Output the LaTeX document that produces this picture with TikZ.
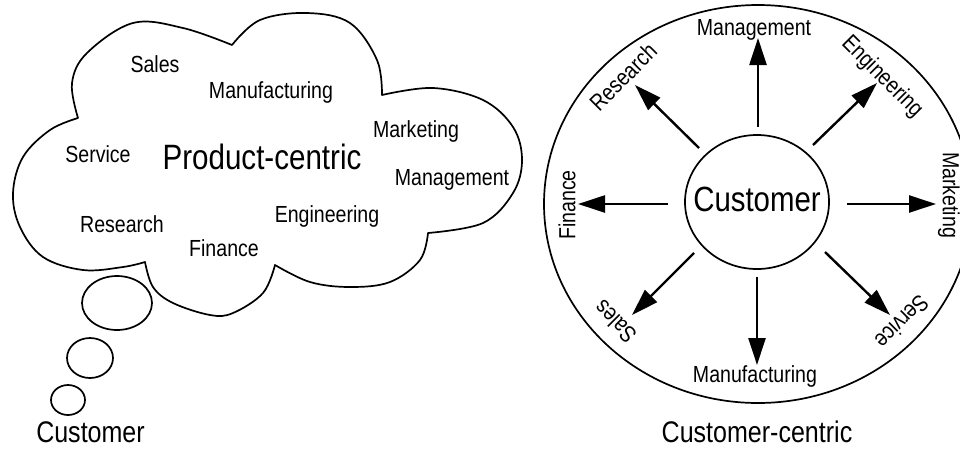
\documentclass[tikz,border=0pt]{standalone}
\usepackage{fontspec}
\setmainfont{Liberation Sans}[FakeStretch=0.84]
\usetikzlibrary{arrows.meta}
\begin{document}
\begin{tikzpicture}[x=1pt,y=-1pt,
  lbl/.style={inner sep=0pt, font=\fontsize{23.3}{27}\selectfont},
  title/.style={inner sep=0pt, font=\fontsize{29.8}{34}\selectfont},
  ray/.style={line width=2.4pt, -{Triangle[length=27pt,width=17pt]}},
  outline/.style={line width=1.7pt, line join=round}]
\useasboundingbox[fill=white] (0,0) rectangle (960,448);

% ---------- left: cloud ----------
\draw[outline]
  plot[smooth, tension=0.6] coordinates {(78,118) (72,83) (87,53) (133,23) (183,28) (232,45)}
  -- plot[smooth, tension=0.6] coordinates {(232,45) (260,20) (307,13) (350,23) (377,60) (382,95)}
  -- plot[smooth, tension=0.6] coordinates {(382,95) (433,88) (483,100) (513,127) (522,160) (513,193) (483,223) (428,233)}
  -- plot[smooth, tension=0.6] coordinates {(428,233) (420,260) (390,282) (350,287) (310,282) (275,265)}
  -- plot[smooth, tension=0.6] coordinates {(275,265) (263,293) (233,313) (210,315) (173,303) (153,287) (145,262)}
  -- plot[smooth, tension=0.6] coordinates {(145,262) (123,267) (83,270) (43,257) (20,227) (13,193) (23,157) (50,130) (78,118)}
  -- cycle;

\draw[outline] (117,303) ellipse [x radius=35pt, y radius=27pt];
\draw[outline] (90,358) ellipse [x radius=23pt, y radius=20pt];
\draw[outline] (68,400) ellipse [x radius=17pt, y radius=15pt];

\node[lbl, anchor=base] (lsales) at (155,72) {Sales};
\node[lbl, anchor=base] (lmanu) at (271,98) {Manufacturing};
\node[lbl, anchor=base] (lmark) at (416,137) {Marketing};
\node[lbl, anchor=base] (lserv) at (98,162) {Service};
\node[inner sep=0pt, font=\fontsize{35.2}{40}\selectfont, anchor=base] (prod) at (262,169) {Product-centric};
\node[lbl, anchor=base] (lmgmt) at (452,185) {Management};
\node[lbl, anchor=base] (leng) at (327,222) {Engineering};
\node[lbl, anchor=base] (lres) at (122,232) {Research};
\node[lbl, anchor=base] (lfin) at (224,256) {Finance};
\node[title, anchor=base] (lcust) at (90.5,442) {Customer};

% ---------- right: customer-centric ----------
\draw[outline] (758,204) ellipse [x radius=214pt, y radius=199pt];
\draw[outline] (757,202) ellipse [x radius=72pt, y radius=67pt];
\node[inner sep=0pt, font=\fontsize{35}{40}\selectfont, anchor=base] (cust) at (757,211) {Customer};

\node[lbl, anchor=base] (rmgmt) at (754,35) {Management};
\node[lbl, rotate=-45] (reng) at (882,77) {Engineering};
\node[lbl, rotate=-90] (rmark) at (949,195) {Marketing};
\node[lbl, rotate=-135] (rserv) at (902,322) {Service};
\node[lbl, anchor=base] (rmanu) at (755,382) {Manufacturing};
\node[lbl, rotate=135] (rsales) at (615,322) {Sales};
\node[lbl, rotate=90] (rfin) at (567,205) {Finance};
\node[lbl, rotate=45] (rres) at (623,77) {Research};

\node[title, anchor=base] (cc) at (757,442) {Customer-centric};

\coordinate (s1) at (758,127); \coordinate (e1) at (758,38);
\coordinate (s2) at (813,145); \coordinate (e2) at (877,83);
\coordinate (s3) at (847,204); \coordinate (e3) at (936,204);
\coordinate (s4) at (825,252); \coordinate (e4) at (890,315);
\coordinate (s5) at (757,277); \coordinate (e5) at (757,365);
\coordinate (s6) at (694,253); \coordinate (e6) at (632,315);
\coordinate (s7) at (668,204); \coordinate (e7) at (578,204);
\coordinate (s8) at (699,148); \coordinate (e8) at (635,85);

\foreach \i in {1,...,8} \draw[ray] (s\i) -- (e\i);
\end{tikzpicture}
\end{document}
